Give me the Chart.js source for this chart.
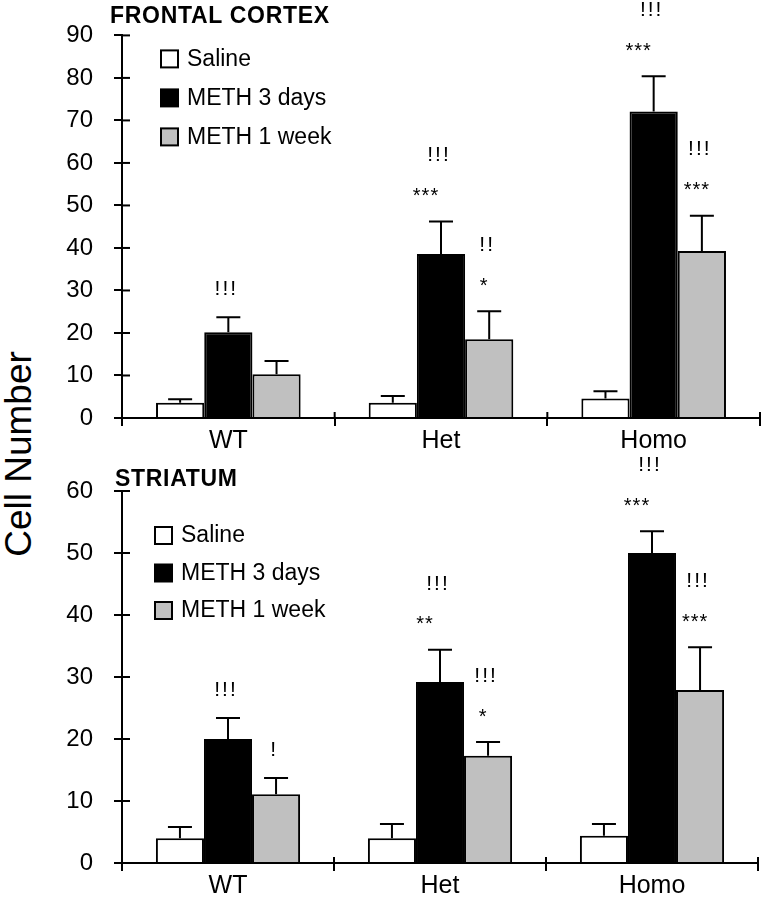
<!DOCTYPE html>
<html>
<head>
<meta charset="utf-8">
<script src="https://cdn.jsdelivr.net/npm/chart.js@4/dist/chart.umd.min.js"></script>
<style>
  body { margin: 0; background: #fff; font-family: "Liberation Sans", Arial, sans-serif; }
  #wrap { position: relative; width: 766px; height: 899px; overflow: hidden; }
  .cv { position: absolute; left: 0; }
  .panelTitle { position: absolute; font-weight: bold; font-size: 23px; letter-spacing: 0.7px; line-height: 1; }
  #ytitle { position: absolute; left: 19px; top: 454px; font-size: 37px; white-space: nowrap;
            transform: translate(-50%, -50%) rotate(-90deg); }
</style>
</head>
<body>
<div id="wrap">
  <div id="ytitle">Cell Number</div>
  <div class="cv" style="top:440px;width:766px;height:459px"><canvas id="striatum"></canvas></div>
  <div class="cv" style="top:0;width:766px;height:460px"><canvas id="frontal"></canvas></div>
  <div class="panelTitle" style="left:110px;top:4px">FRONTAL CORTEX</div>
  <div class="panelTitle" style="left:115px;top:467px">STRIATUM</div>
</div>
<script>
const categories = ["WT", "Het", "Homo"];
const seriesLabels = ["Saline", "METH 3 days", "METH 1 week"];
const seriesColors = ["#ffffff", "#000000", "#c0c0c0"];

// frontal cortex
const frontalSaline = [3.6, 3.6, 4.6];
const frontalMeth3d = [20.2, 38.6, 72.1];
const frontalMeth1w = [10.3, 18.5, 39.3];
const frontalSalineErr = [0.8, 1.6, 1.7];
const frontalMeth3dErr = [3.5, 7.6, 8.3];
const frontalMeth1wErr = [3.1, 6.6, 8.3];
const frontalStars = [["", "", ""], ["", "***", "***"], ["", "*", "***"]];
const frontalBangs = [["", "", ""], ["!!!", "!!!", "!!!"], ["", "!!", "!!!"]];
const frontalTicks = [0, 10, 20, 30, 40, 50, 60, 70, 80, 90];

// striatum
const striatumSaline = [4.0, 4.0, 4.4];
const striatumMeth3d = [20.0, 29.2, 50.0];
const striatumMeth1w = [11.1, 17.3, 27.9];
const striatumSalineErr = [1.8, 2.3, 1.9];
const striatumMeth3dErr = [3.4, 5.2, 3.5];
const striatumMeth1wErr = [2.6, 2.2, 6.9];
const striatumStars = [["", "", ""], ["", "**", "***"], ["", "*", "***"]];
const striatumBangs = [["", "", ""], ["!!!", "!!!", "!!!"], ["!", "!!!", "!!!"]];
const striatumTicks = [0, 10, 20, 30, 40, 50, 60];

const FONT = "'Liberation Sans', Arial, sans-serif";

// error bars, significance marks, crossing ticks and legend
const extras = {
  id: "extras",
  afterDatasetsDraw(chart, args, opts) {
    const ctx = chart.ctx;
    const y = chart.scales.y, x = chart.scales.x;
    ctx.save();
    ctx.strokeStyle = "#000";
    ctx.lineWidth = 2;
    // inner half of the ticks
    y.ticks.forEach((t, i) => {
      const py = y.getPixelForTick(i);
      ctx.beginPath(); ctx.moveTo(x.left, py); ctx.lineTo(x.left + 8, py); ctx.stroke();
    });
    for (let i = 0; i <= categories.length; i++) {
      const px = x.left + (x.right - x.left) * i / categories.length;
      ctx.beginPath(); ctx.moveTo(px, y.bottom); ctx.lineTo(px, y.bottom - 6); ctx.stroke();
    }
    chart.data.datasets.forEach((ds, di) => {
      const meta = chart.getDatasetMeta(di);
      meta.data.forEach((bar, i) => {
        const top = y.getPixelForValue(ds.data[i] + ds.err[i]);
        ctx.beginPath();
        ctx.moveTo(bar.x, bar.y); ctx.lineTo(bar.x, top);
        ctx.moveTo(bar.x - 12, top); ctx.lineTo(bar.x + 12, top);
        ctx.stroke();
        ctx.fillStyle = "#000";
        ctx.textAlign = "center";
        ctx.textBaseline = "middle";
        let level = top - 30;
        const s = opts.stars[di][i], b = opts.bangs[di][i];
        if (s) {
          ctx.letterSpacing = "1px";
          ctx.font = "20px " + FONT;
          ctx.fillText(s, bar.x - (di === 1 ? 15 : 5), level + 5);
          level -= 36;
        } else {
          level += 2;
        }
        if (b) {
          ctx.letterSpacing = "2px";
          ctx.font = "21px " + FONT;
          ctx.fillText(b, bar.x - 2, level);
        }
        ctx.letterSpacing = "0px";
      });
    });
    // legend
    const lg = opts.legend;
    ctx.font = "23px " + FONT;
    ctx.textAlign = "left";
    ctx.textBaseline = "middle";
    chart.data.datasets.forEach((ds, di) => {
      const cy = y.top + lg.top + di * lg.gap;
      const lx = x.left + lg.left;
      ctx.fillStyle = ds.backgroundColor;
      ctx.fillRect(lx, cy - 8, 17, 17);
      ctx.strokeRect(lx, cy - 8, 17, 17);
      ctx.fillStyle = "#000";
      ctx.fillText(ds.label, lx + 26, cy + 1);
    });
    ctx.restore();
  }
};

function makeChart(id, values, errs, ticks, stars, bangs, pad, xHeight, legend) {
  new Chart(document.getElementById(id), {
    type: "bar",
    data: {
      labels: categories,
      datasets: values.map((v, i) => ({
        label: seriesLabels[i],
        data: v,
        err: errs[i],
        backgroundColor: seriesColors[i],
        borderColor: "#000",
        borderWidth: 2,
        borderSkipped: "bottom"
      }))
    },
    options: {
      responsive: true,
      maintainAspectRatio: false,
      animation: false,
      layout: { padding: pad },
      categoryPercentage: 0.68,
      barPercentage: 1,
      plugins: {
        legend: { display: false },
        tooltip: { enabled: false },
        extras: { stars: stars, bangs: bangs, legend: legend }
      },
      scales: {
        x: {
          afterFit: s => { s.height = xHeight; },
          border: { color: "#000", width: 2 },
          grid: { drawOnChartArea: false, offset: true, color: "#000", lineWidth: 2, tickLength: 8 },
          ticks: { color: "#000", font: { family: FONT, size: 25 }, padding: 0 }
        },
        y: {
          min: 0,
          max: ticks[ticks.length - 1],
          afterFit: s => { s.width = 122; },
          afterBuildTicks: s => { s.ticks = ticks.map(v => ({ value: v })); },
          border: { color: "#000", width: 2 },
          grid: { drawOnChartArea: false, color: "#000", lineWidth: 2, tickLength: 8 },
          ticks: { color: "#000", font: { family: FONT, size: 24 }, padding: 21 }
        }
      }
    },
    plugins: [extras]
  });
}

makeChart("frontal",
  [frontalSaline, frontalMeth3d, frontalMeth1w],
  [frontalSalineErr, frontalMeth3dErr, frontalMeth1wErr],
  frontalTicks, frontalStars, frontalBangs,
  { left: 0, right: 6, top: 35, bottom: 0 }, 42,
  { left: 39, top: 23, gap: 39 });

makeChart("striatum",
  [striatumSaline, striatumMeth3d, striatumMeth1w],
  [striatumSalineErr, striatumMeth3dErr, striatumMeth1wErr],
  striatumTicks, striatumStars, striatumBangs,
  { left: 0, right: 8, top: 51, bottom: 0 }, 36,
  { left: 33, top: 44, gap: 37.5 });
</script>
</body>
</html>
